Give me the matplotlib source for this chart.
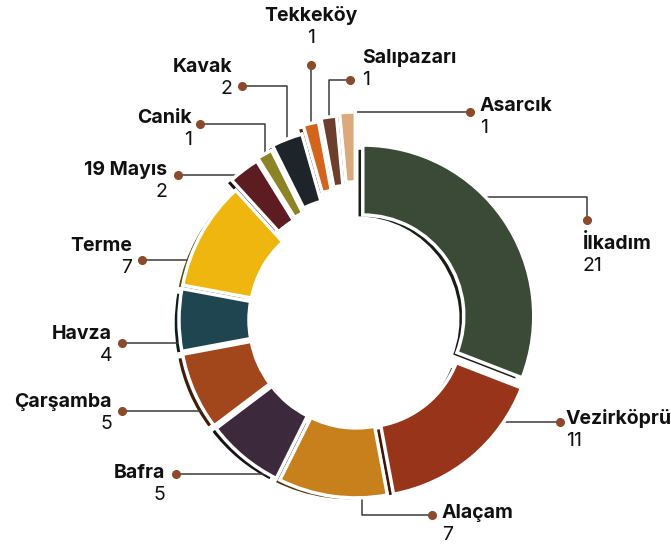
import numpy as np
import matplotlib.pyplot as plt
from matplotlib.colors import to_rgb

# ilçe bazında sayılar (saat yönünde, tepeden başlayarak)
districts = ['İlkadım', 'Vezirköprü', 'Alaçam', 'Bafra', 'Çarşamba', 'Havza', 'Terme',
             '19 Mayıs', 'Canik', 'Kavak', 'Tekkeköy', 'Salıpazarı', 'Asarcık']
counts = [21, 11, 7, 5, 5, 4, 7, 2, 1, 2, 1, 1, 1]
colors = ['#3b4a36', '#98341a', '#c8801c', '#3c2a3c', '#a2461b', '#1f4550', '#eeb60f',
          '#5d1b22', '#8c8424', '#1d242a', '#d4641c', '#6b3f2b', '#dba97b']

# stil / yerleşim (piksel)
explode = [7, 8, 7, 7, 7, 7, 7, 17, 19, 23, 31, 34, 37]
CX, CY, R, W = 357, 320, 171, 70
line_col = '#3a3a3a'
dot_col = '#8b4a2b'

# etiket yerleşimi: yol tipi, nokta, dirsek, isim konumu (x, taban çizgisi), hizalama
layout = {
    'İlkadım':    dict(route='vh', dot=(587, 220), elbow=197, name=(583, 249), ha='left'),
    'Vezirköprü': dict(route='h', dot=(560, 422), name=(566, 424), ha='left'),
    'Alaçam':     dict(route='hv', dot=(432, 515), elbow=362, name=(442, 518), ha='left'),
    'Bafra':      dict(route='h', dot=(176, 474), name=(165, 478), ha='right'),
    'Çarşamba':   dict(route='h', dot=(122, 411), name=(112, 407), ha='right'),
    'Havza':      dict(route='h', dot=(122, 343), name=(112, 339), ha='right'),
    'Terme':      dict(route='h', dot=(142, 260), name=(132, 251), ha='right'),
    '19 Mayıs':   dict(route='hv', dot=(178, 175), elbow=None, name=(167, 175), ha='right'),
    'Canik':      dict(route='hv', dot=(200, 124), elbow=None, name=(192, 123), ha='right'),
    'Kavak':      dict(route='hv', dot=(242, 86), elbow=None, name=(232, 72), ha='right'),
    'Tekkeköy':   dict(route='v', dot=(None, 65), name=(None, 21), ha='center'),
    'Salıpazarı': dict(route='hv', dot=(350, 80), elbow=None, name=(362, 63), ha='left'),
    'Asarcık':    dict(route='mid', dot=(470, None), name=(480, None), ha='left'),
}


def darker(c, f=0.4):
    return tuple(v * f for v in to_rgb(c))


def arc_point(w, deg):
    cx, cy = w.center
    t = np.radians(deg)
    return cx + w.r * np.cos(t), cy + w.r * np.sin(t)


def angle_at_y(w, y, left):
    cx, cy = w.center
    a = np.degrees(np.arcsin(np.clip((y - cy) / w.r, -1, 1)))
    return 180 - a if left else a


def angle_at_x(w, x, above):
    cx, cy = w.center
    a = np.degrees(np.arccos(np.clip((x - cx) / w.r, -1, 1)))
    return -a if above else a


plt.rcParams['font.family'] = ['Inter', 'DejaVu Sans']
fig = plt.figure(figsize=(6.71, 5.46), dpi=100)
ax = fig.add_axes([0, 0, 1, 1])

# gölge: aynı dilimler, sola-aşağı kaydırılmış ve koyulaştırılmış
shadows, _ = ax.pie(counts, colors=[darker(c) for c in colors], startangle=-90, counterclock=True,
                    radius=R, center=(CX - 6, CY + 3), explode=explode,
                    wedgeprops=dict(width=W, edgecolor='white', linewidth=2.5))
for s in shadows:
    s.set_zorder(1)

wedges, _ = ax.pie(counts, colors=colors, startangle=-90, counterclock=True,
                   radius=R, center=(CX, CY), explode=explode,
                   wedgeprops=dict(width=W, edgecolor='white', linewidth=2.5))
for w in wedges:
    w.set_zorder(3)

for w, name, val in zip(wedges, districts, counts):
    spec = layout[name]
    dx, dy = spec['dot']
    nx, ny = spec['name']
    mid = (w.theta1 + w.theta2) / 2
    route = spec['route']
    if route == 'h':
        p = arc_point(w, angle_at_y(w, dy, dx < w.center[0]))
        pts = [(dx, dy), p]
    elif route == 'vh':
        e = spec['elbow']
        p = arc_point(w, angle_at_y(w, e, dx < w.center[0]))
        pts = [(dx, dy), (dx, e), p]
    elif route == 'hv':
        if spec['elbow'] is None:
            p = arc_point(w, mid)
        else:
            p = arc_point(w, angle_at_x(w, spec['elbow'], dy < w.center[1]))
        pts = [(dx, dy), (p[0], dy), p]
    elif route == 'v':
        p = arc_point(w, mid)
        dx = nx = p[0]
        pts = [(dx, dy), p]
    else:  # 'mid'
        p = arc_point(w, mid)
        dy = p[1]
        ny = dy - 1
        pts = [(dx, dy), p]
    xs, ys = zip(*pts)
    ax.plot(xs, ys, color=line_col, lw=1.1, zorder=2, solid_capstyle='butt')
    ax.plot(dx, dy, 'o', ms=5.5, color=dot_col, zorder=4)
    ax.text(nx, ny, name, ha=spec['ha'], va='baseline', fontsize=14, fontweight='bold', color='#111111')
    ax.text(nx, ny + 22, str(val), ha=spec['ha'], va='baseline', fontsize=14, color='#111111')

ax.set_xlim(0, 671)
ax.set_ylim(546, 0)
ax.set_aspect('equal')
ax.axis('off')

fig.savefig('out.png', dpi=100)
